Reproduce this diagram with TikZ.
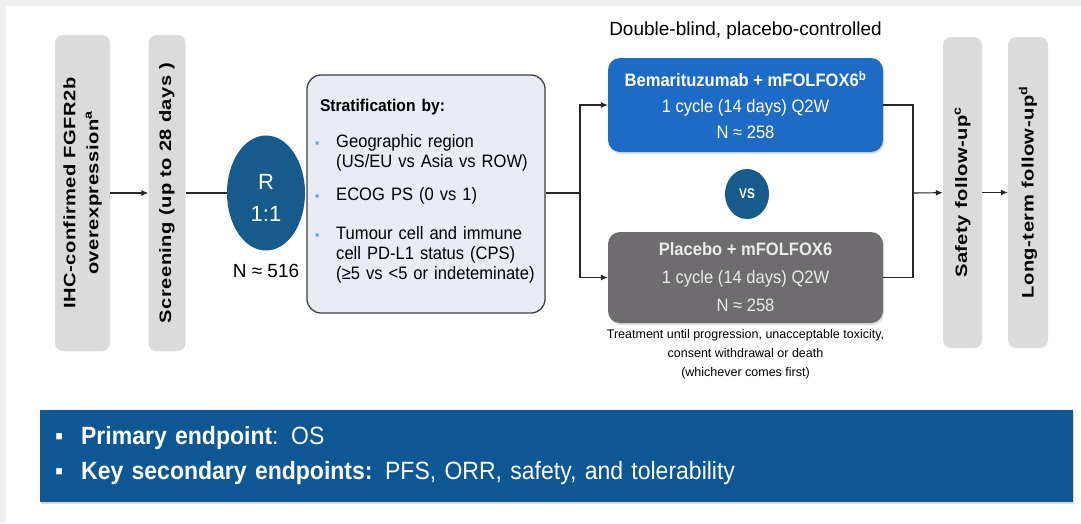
\documentclass[tikz,border=0pt]{standalone}
\usepackage{fontspec}
\setmainfont{Liberation Sans}
\newfontfamily\narrowfont[FakeStretch=0.84]{Liberation Sans}
\newfontfamily\midfont[FakeStretch=0.92]{Liberation Sans}
\newfontfamily\widefont[FakeStretch=1.22, LetterSpace=3]{Liberation Sans}
\usetikzlibrary{arrows.meta, positioning, shapes.geometric, shadows}

\definecolor{phasegrey}{HTML}{DBDBDB}
\definecolor{stratfill}{HTML}{E9EBF5}
\definecolor{randblue}{HTML}{175A8C}
\definecolor{armblue}{HTML}{1E6BC6}
\definecolor{armgrey}{HTML}{6E6C6E}
\definecolor{bannerblue}{HTML}{0D5894}
\definecolor{bulletblue}{HTML}{6A9FD8}
\definecolor{edgegrey}{HTML}{EEEFF1}

\newcommand{\sbul}{\textcolor{bulletblue}{\fontsize{13}{13}\selectfont ▪}}

\begin{document}
\begin{tikzpicture}[
  x=1pt, y=-1pt,
  phase/.style={fill=phasegrey, rounded corners=8pt, rotate=90, align=center, inner sep=0pt,
    font=\widefont\bfseries\fontsize{16.5}{23}\selectfont},
  randcircle/.style={ellipse, fill=randblue, text=white, align=center, inner sep=0pt},
  strat/.style={draw=black!75, line width=1.3pt, fill=stratfill, rounded corners=14pt,
    inner xsep=8pt, inner ysep=0pt, text width=222pt, align=left,
    minimum height=238, font=\midfont\fontsize{18}{20}\selectfont},
  arm/.style={rounded corners=12pt, text=white, align=center, minimum width=275, inner sep=0pt,
    drop shadow={opacity=0.25, shadow xshift=1pt, shadow yshift=-2pt}},
  note/.style={align=center, font=\fontsize{12.5}{19}\selectfont},
  banner/.style={fill=bannerblue, text=white, align=left, minimum height=92, text width=1003, inner xsep=15pt,
    font=\midfont\fontsize{25}{35}\selectfont, drop shadow={opacity=0.3, shadow xshift=1pt, shadow yshift=-2pt}},
  arrow/.style={-{Latex[length=7pt, width=6pt]}, line width=1.1pt, black!85},
  link/.style={line width=1.1pt, black!85}
]
\fill[edgegrey] (0,0) rectangle (1081,523);
\useasboundingbox[fill=white] (6,6) rectangle (1081,523);
\useasboundingbox (0,0) rectangle (1081,523);

% screening phase
\node[phase, minimum width=316, minimum height=55] (ihc) at (82.5,193)
  {IHC-confirmed FGFR2b\\overexpression\textsuperscript{a}};
\node[phase, minimum width=316, minimum height=37] (screen) at (167,193)
  {Screening (up to 28 days )};
\node[randcircle, minimum width=78, minimum height=115, font=\fontsize{22}{32}\selectfont] (rand) at (266,193)
  {\rule{0pt}{24pt}R\\1:1};
\node[font=\fontsize{19}{19}\selectfont] (nrand) at (266,271) {N ≈ 516};
\node[strat] (stratbox) at (426,194) {%
  \begin{tabular}{@{}l@{\hspace{17pt}}l@{}}
    \multicolumn{2}{@{\hspace{5pt}}l@{}}{\bfseries\fontsize{17}{20}\selectfont Stratification by:}\\[16pt]
    \sbul & Geographic region\\
          & (US/EU vs Asia vs ROW)\\[13pt]
    \sbul & ECOG PS (0 vs 1)\\[19pt]
    \sbul & Tumour cell and immune\\
          & cell PD-L1 status (CPS)\\
          & (≥5 vs <5 or indeteminate)\\[6pt]
  \end{tabular}};

% treatment arms
\node[arm, fill=armblue, minimum height=94, font=\midfont\fontsize{18}{26}\selectfont] (active) at (745.5,105)
  {\bfseries Bemarituzumab + mFOLFOX6\textsuperscript{b}\\1 cycle (14 days) Q2W\\N ≈ 258};
\node[font=\fontsize{19}{19}\selectfont, above=15pt of active] (blind) {Double-blind, placebo-controlled};
\node[randcircle, minimum width=44, minimum height=50, font=\narrowfont\bfseries\fontsize{14}{14}\selectfont] (vs) at (747,194) {VS};
\node[arm, fill=armgrey, text=white!92!black, minimum height=91, font=\midfont\fontsize{18}{28}\selectfont] (placebo) at (745.5,277.5)
  {\bfseries Placebo + mFOLFOX6\\1 cycle (14 days) Q2W\\N ≈ 258};
\node[note, below=3pt of placebo] (until)
  {Treatment until progression, unacceptable toxicity,\\consent withdrawal or death\\(whichever comes first)};

% follow-up phase
\node[phase, minimum width=311, minimum height=39] (safety) at (962.5,192.5)
  {Safety follow-up\textsuperscript{c}};
\node[phase, minimum width=311, minimum height=40] (longterm) at (1028,192.5)
  {Long-term follow-up\textsuperscript{d}};

\node[banner] (endpoints) at (556.5,456)
  {▪\hspace{18pt}\textbf{Primary endpoint}: OS\\
   ▪\hspace{18pt}\textbf{Key secondary endpoints:} PFS, ORR, safety, and tolerability};

\coordinate (split) at (580,193);
\coordinate (merge) at (913,193);

\draw[arrow] (ihc) -- (screen);
\draw[link] (screen) -- (rand);
\draw[link] (stratbox.east |- split) -- (split);
\draw[arrow] (split) |- (active.west);
\draw[arrow] (split) |- (placebo.west);
\draw[link] (active.east) -| (merge);
\draw[link] (placebo.east) -| (merge);
\draw[arrow] (merge) -- (safety);
\draw[arrow] (safety) -- (longterm);
\end{tikzpicture}
\end{document}
